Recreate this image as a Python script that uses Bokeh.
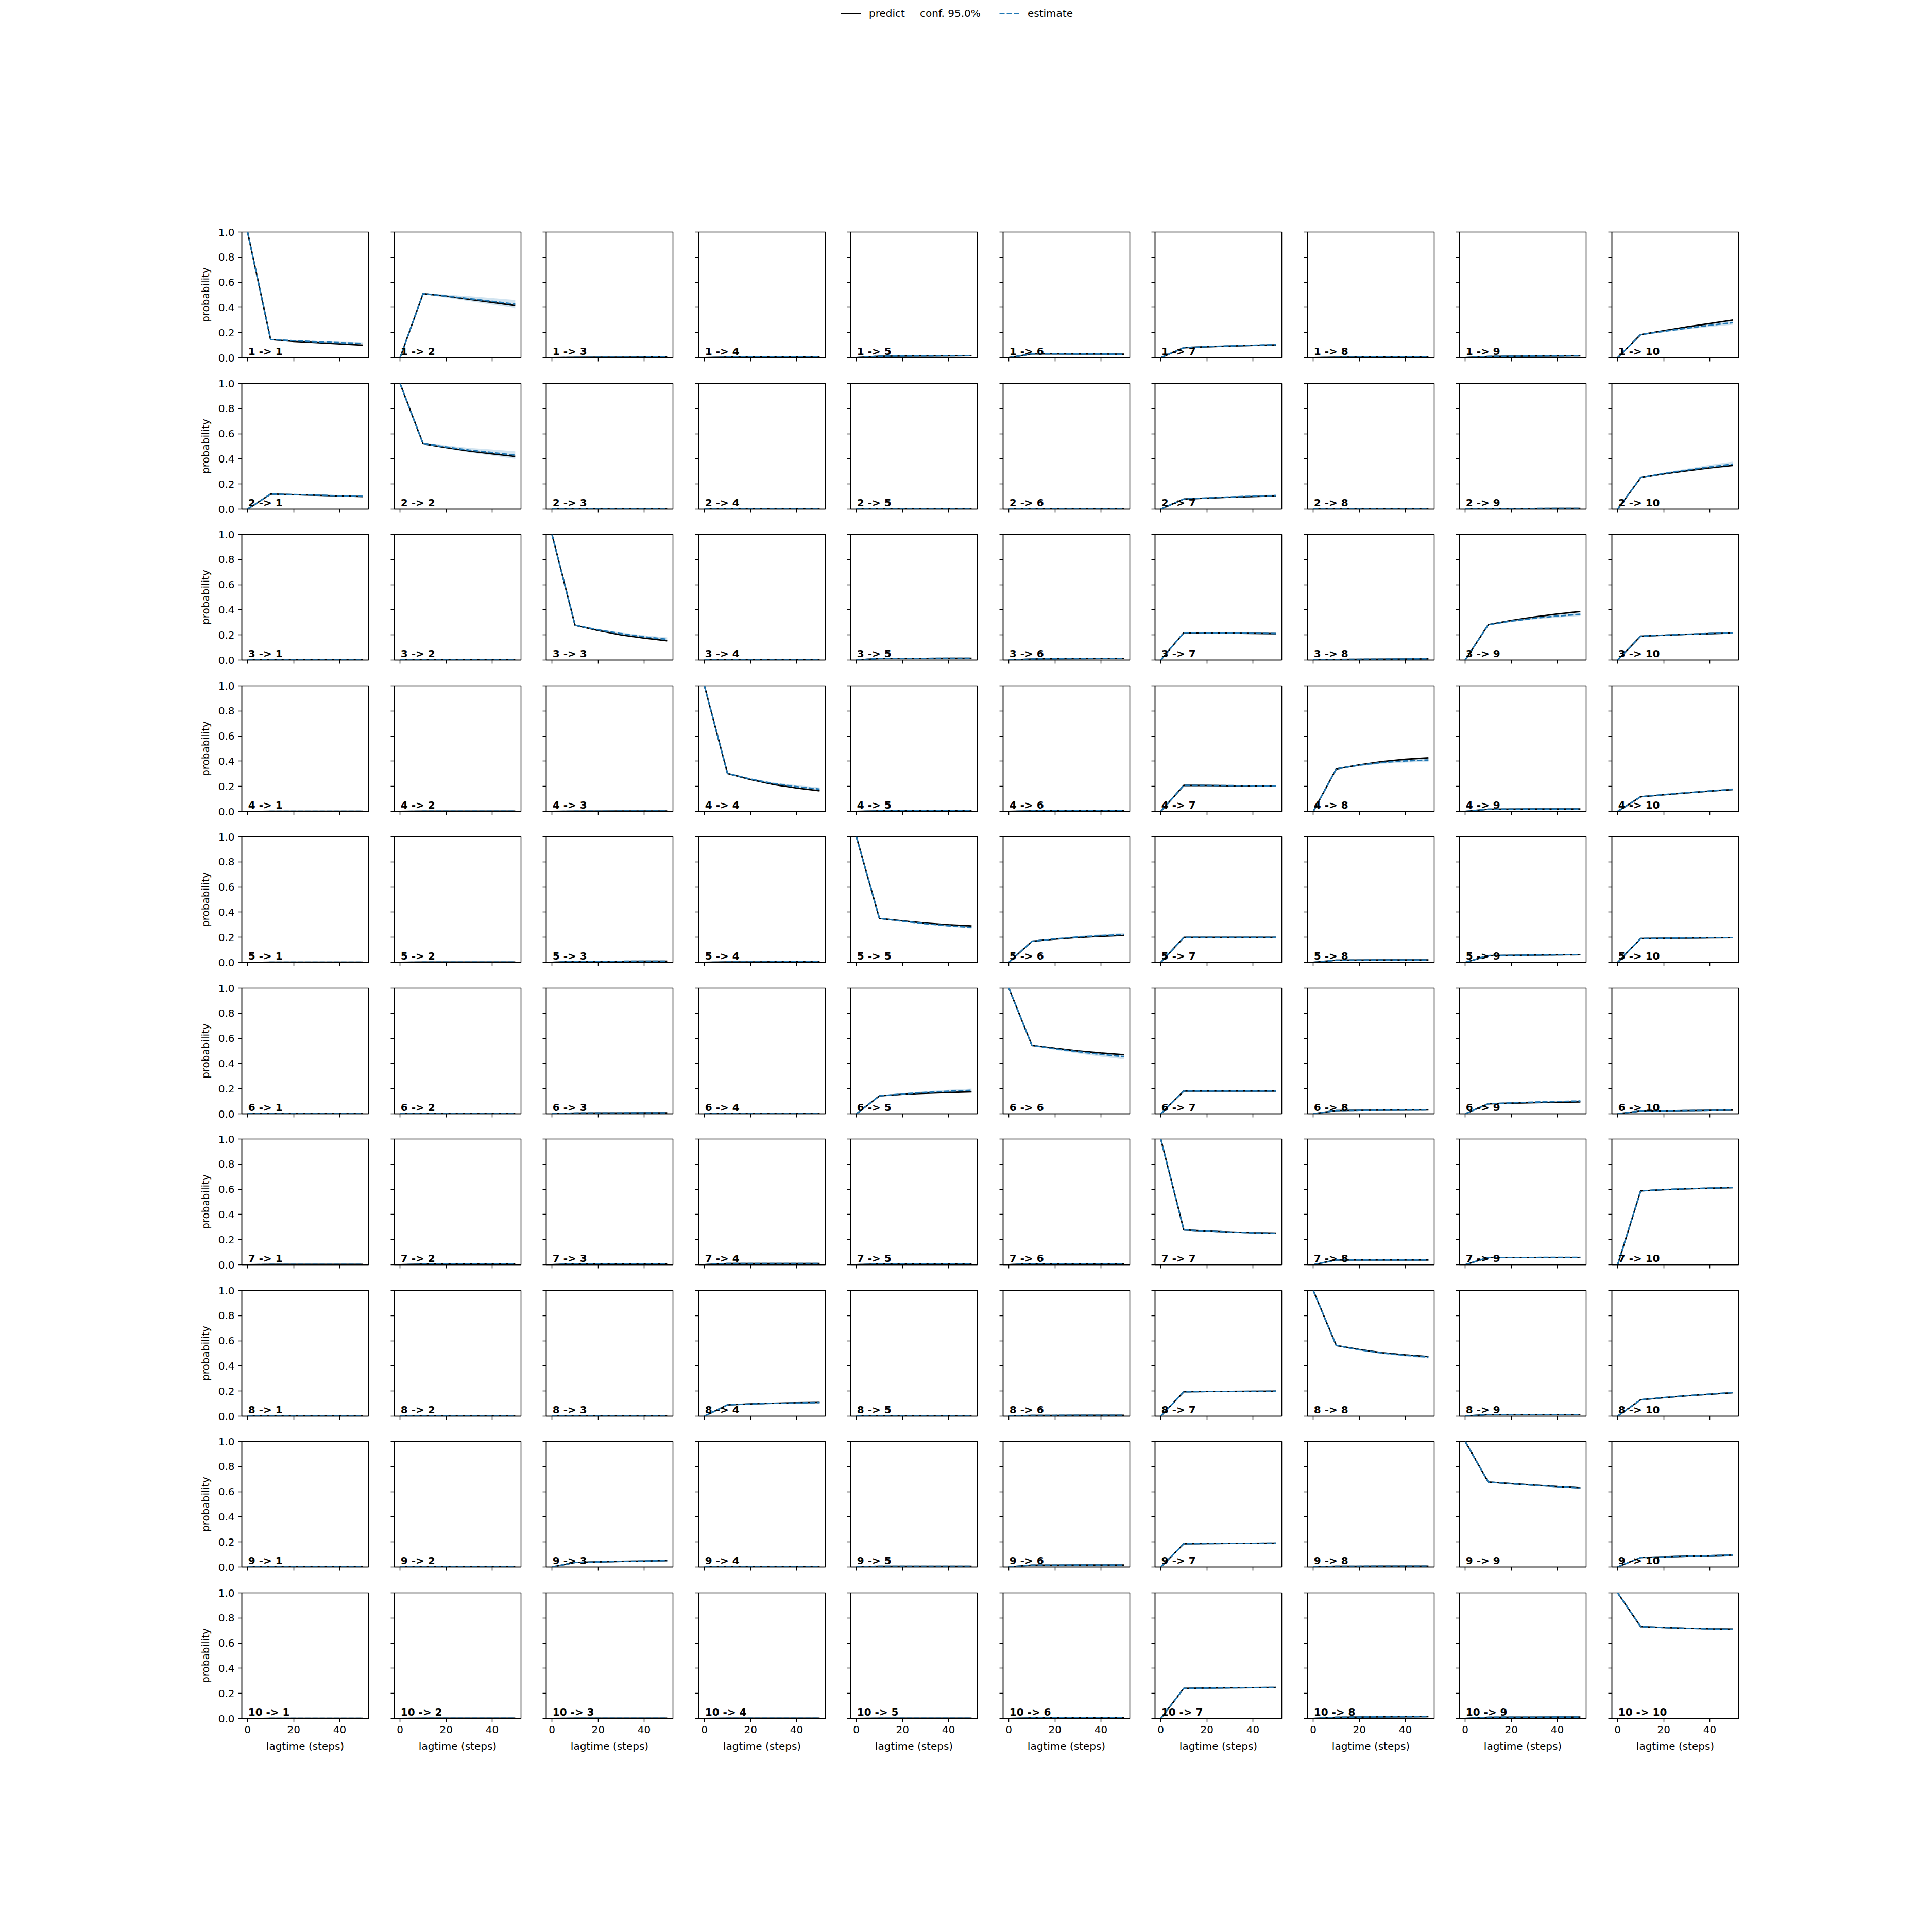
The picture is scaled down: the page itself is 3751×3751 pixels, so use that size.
from bokeh.plotting import figure
from bokeh.layouts import gridplot, column
from bokeh.models import (Range1d, FixedTicker, NumeralTickFormatter, CustomJSTickFormatter,
                          Legend, LegendItem)
from bokeh.core.properties import value
from bokeh.embed import file_html
from bokeh.resources import INLINE

# ---------------- data ----------------
states = [1, 2, 3, 4, 5, 6, 7, 8, 9, 10]
lagtimes = [0, 10, 20, 30, 40, 50]
x_ticks = [0, 20, 40]
y_ticks = [0.0, 0.2, 0.4, 0.6, 0.8, 1.0]
legend_labels = ["predict", "conf. 95.0%", "estimate"]
x_label = "lagtime (steps)"
y_label = "probability"

predict_r1 = [
    [1.0, 0.145, 0.130, 0.120, 0.110, 0.100],
    [0.0, 0.510, 0.490, 0.465, 0.440, 0.415],
    [0.0, 0.002, 0.003, 0.003, 0.004, 0.004],
    [0.0, 0.004, 0.005, 0.005, 0.006, 0.006],
    [0.0, 0.012, 0.013, 0.014, 0.015, 0.016],
    [0.0, 0.030, 0.030, 0.029, 0.029, 0.028],
    [0.0, 0.080, 0.087, 0.093, 0.098, 0.102],
    [0.0, 0.003, 0.004, 0.005, 0.005, 0.006],
    [0.0, 0.010, 0.012, 0.013, 0.014, 0.015],
    [0.0, 0.184, 0.215, 0.245, 0.272, 0.300],
]
estimate_r1 = [
    [1.0, 0.145, 0.135, 0.127, 0.120, 0.115],
    [0.0, 0.510, 0.490, 0.470, 0.448, 0.426],
    [0.0, 0.002, 0.003, 0.003, 0.004, 0.004],
    [0.0, 0.004, 0.005, 0.005, 0.006, 0.006],
    [0.0, 0.012, 0.013, 0.014, 0.015, 0.016],
    [0.0, 0.030, 0.030, 0.029, 0.029, 0.028],
    [0.0, 0.080, 0.088, 0.094, 0.099, 0.104],
    [0.0, 0.003, 0.004, 0.005, 0.005, 0.006],
    [0.0, 0.010, 0.012, 0.013, 0.014, 0.015],
    [0.0, 0.184, 0.210, 0.235, 0.258, 0.279],
]
conf_r1 = [
    [0.0, 0.002, 0.004, 0.006, 0.007, 0.008],
    [0.0, 0.005, 0.012, 0.020, 0.026, 0.033],
    [0.0, 0.000, 0.001, 0.001, 0.001, 0.001],
    [0.0, 0.001, 0.001, 0.001, 0.001, 0.001],
    [0.0, 0.001, 0.002, 0.002, 0.002, 0.003],
    [0.0, 0.002, 0.003, 0.003, 0.004, 0.004],
    [0.0, 0.003, 0.004, 0.005, 0.006, 0.007],
    [0.0, 0.001, 0.001, 0.001, 0.001, 0.001],
    [0.0, 0.001, 0.002, 0.002, 0.002, 0.003],
    [0.0, 0.004, 0.007, 0.010, 0.013, 0.017],
]

predict_r2 = [
    [0.0, 0.120, 0.115, 0.110, 0.105, 0.100],
    [1.0, 0.520, 0.490, 0.463, 0.440, 0.420],
    [0.0, 0.002, 0.002, 0.003, 0.003, 0.003],
    [0.0, 0.003, 0.003, 0.004, 0.004, 0.004],
    [0.0, 0.003, 0.004, 0.004, 0.005, 0.005],
    [0.0, 0.003, 0.003, 0.004, 0.004, 0.004],
    [0.0, 0.080, 0.088, 0.095, 0.100, 0.105],
    [0.0, 0.003, 0.003, 0.004, 0.004, 0.004],
    [0.0, 0.004, 0.005, 0.005, 0.006, 0.006],
    [0.0, 0.250, 0.280, 0.305, 0.328, 0.348],
]
estimate_r2 = [
    [0.0, 0.120, 0.116, 0.111, 0.106, 0.102],
    [1.0, 0.520, 0.495, 0.470, 0.450, 0.430],
    [0.0, 0.002, 0.002, 0.003, 0.003, 0.003],
    [0.0, 0.003, 0.003, 0.004, 0.004, 0.004],
    [0.0, 0.003, 0.004, 0.004, 0.005, 0.005],
    [0.0, 0.003, 0.003, 0.004, 0.004, 0.004],
    [0.0, 0.080, 0.089, 0.097, 0.103, 0.108],
    [0.0, 0.003, 0.003, 0.004, 0.004, 0.004],
    [0.0, 0.004, 0.005, 0.005, 0.006, 0.006],
    [0.0, 0.250, 0.283, 0.310, 0.336, 0.358],
]
conf_r2 = [
    [0.0, 0.002, 0.003, 0.004, 0.005, 0.006],
    [0.0, 0.005, 0.012, 0.018, 0.024, 0.030],
    [0.0, 0.000, 0.001, 0.001, 0.001, 0.001],
    [0.0, 0.001, 0.001, 0.001, 0.001, 0.001],
    [0.0, 0.001, 0.001, 0.001, 0.001, 0.001],
    [0.0, 0.001, 0.001, 0.001, 0.001, 0.001],
    [0.0, 0.003, 0.004, 0.005, 0.007, 0.008],
    [0.0, 0.001, 0.001, 0.001, 0.001, 0.001],
    [0.0, 0.001, 0.001, 0.001, 0.001, 0.001],
    [0.0, 0.004, 0.008, 0.012, 0.016, 0.020],
]

predict_r3 = [
    [0.0, 0.001, 0.001, 0.001, 0.001, 0.001],
    [0.0, 0.003, 0.003, 0.003, 0.003, 0.003],
    [1.0, 0.277, 0.235, 0.200, 0.175, 0.153],
    [0.0, 0.004, 0.004, 0.005, 0.005, 0.005],
    [0.0, 0.012, 0.013, 0.013, 0.014, 0.014],
    [0.0, 0.008, 0.010, 0.011, 0.012, 0.013],
    [0.0, 0.218, 0.216, 0.214, 0.212, 0.210],
    [0.0, 0.004, 0.006, 0.007, 0.008, 0.009],
    [0.0, 0.281, 0.315, 0.343, 0.366, 0.386],
    [0.0, 0.190, 0.197, 0.204, 0.210, 0.215],
]
estimate_r3 = [
    [0.0, 0.001, 0.001, 0.001, 0.001, 0.001],
    [0.0, 0.003, 0.003, 0.003, 0.003, 0.003],
    [1.0, 0.277, 0.240, 0.210, 0.185, 0.165],
    [0.0, 0.004, 0.004, 0.005, 0.005, 0.005],
    [0.0, 0.012, 0.013, 0.013, 0.014, 0.014],
    [0.0, 0.008, 0.010, 0.011, 0.012, 0.013],
    [0.0, 0.218, 0.217, 0.215, 0.213, 0.211],
    [0.0, 0.004, 0.006, 0.007, 0.008, 0.009],
    [0.0, 0.281, 0.310, 0.333, 0.350, 0.364],
    [0.0, 0.190, 0.198, 0.205, 0.211, 0.217],
]
conf_r3 = [
    [0.0, 0.000, 0.001, 0.001, 0.001, 0.001],
    [0.0, 0.001, 0.001, 0.001, 0.001, 0.001],
    [0.0, 0.003, 0.006, 0.009, 0.012, 0.015],
    [0.0, 0.001, 0.001, 0.001, 0.001, 0.001],
    [0.0, 0.001, 0.002, 0.002, 0.002, 0.002],
    [0.0, 0.001, 0.002, 0.002, 0.002, 0.002],
    [0.0, 0.003, 0.004, 0.004, 0.005, 0.005],
    [0.0, 0.001, 0.001, 0.001, 0.002, 0.002],
    [0.0, 0.003, 0.006, 0.009, 0.012, 0.014],
    [0.0, 0.003, 0.004, 0.005, 0.006, 0.006],
]

predict_r4 = [
    [0.0, 0.001, 0.001, 0.001, 0.001, 0.001],
    [0.0, 0.002, 0.002, 0.002, 0.002, 0.002],
    [0.0, 0.002, 0.002, 0.003, 0.003, 0.003],
    [1.0, 0.303, 0.255, 0.215, 0.187, 0.164],
    [0.0, 0.004, 0.004, 0.004, 0.004, 0.004],
    [0.0, 0.004, 0.004, 0.004, 0.004, 0.004],
    [0.0, 0.208, 0.207, 0.205, 0.204, 0.203],
    [0.0, 0.339, 0.370, 0.397, 0.415, 0.427],
    [0.0, 0.018, 0.019, 0.020, 0.020, 0.020],
    [0.0, 0.117, 0.133, 0.148, 0.162, 0.175],
]
estimate_r4 = [
    [0.0, 0.001, 0.001, 0.001, 0.001, 0.001],
    [0.0, 0.002, 0.002, 0.002, 0.002, 0.002],
    [0.0, 0.002, 0.002, 0.003, 0.003, 0.003],
    [1.0, 0.303, 0.258, 0.222, 0.198, 0.178],
    [0.0, 0.004, 0.004, 0.004, 0.004, 0.004],
    [0.0, 0.004, 0.004, 0.004, 0.004, 0.004],
    [0.0, 0.208, 0.207, 0.206, 0.205, 0.204],
    [0.0, 0.339, 0.368, 0.390, 0.402, 0.409],
    [0.0, 0.018, 0.019, 0.020, 0.020, 0.020],
    [0.0, 0.117, 0.134, 0.149, 0.163, 0.176],
]
conf_r4 = [
    [0.0, 0.000, 0.001, 0.001, 0.001, 0.001],
    [0.0, 0.001, 0.001, 0.001, 0.001, 0.001],
    [0.0, 0.001, 0.001, 0.001, 0.001, 0.001],
    [0.0, 0.003, 0.006, 0.009, 0.012, 0.014],
    [0.0, 0.001, 0.001, 0.001, 0.001, 0.001],
    [0.0, 0.001, 0.001, 0.001, 0.001, 0.001],
    [0.0, 0.003, 0.004, 0.004, 0.005, 0.005],
    [0.0, 0.004, 0.007, 0.010, 0.013, 0.016],
    [0.0, 0.001, 0.002, 0.002, 0.002, 0.002],
    [0.0, 0.003, 0.004, 0.006, 0.007, 0.008],
]

predict_r5 = [
    [0.0, 0.001, 0.001, 0.001, 0.001, 0.001],
    [0.0, 0.002, 0.002, 0.002, 0.002, 0.002],
    [0.0, 0.008, 0.009, 0.009, 0.010, 0.010],
    [0.0, 0.003, 0.003, 0.004, 0.004, 0.004],
    [1.0, 0.350, 0.330, 0.313, 0.300, 0.290],
    [0.0, 0.168, 0.185, 0.198, 0.208, 0.215],
    [0.0, 0.199, 0.199, 0.199, 0.199, 0.199],
    [0.0, 0.018, 0.019, 0.020, 0.020, 0.020],
    [0.0, 0.054, 0.056, 0.058, 0.060, 0.061],
    [0.0, 0.190, 0.192, 0.193, 0.195, 0.196],
]
estimate_r5 = [
    [0.0, 0.001, 0.001, 0.001, 0.001, 0.001],
    [0.0, 0.002, 0.002, 0.002, 0.002, 0.002],
    [0.0, 0.008, 0.009, 0.009, 0.010, 0.010],
    [0.0, 0.003, 0.003, 0.004, 0.004, 0.004],
    [1.0, 0.350, 0.328, 0.308, 0.292, 0.279],
    [0.0, 0.168, 0.187, 0.202, 0.213, 0.222],
    [0.0, 0.199, 0.199, 0.199, 0.199, 0.199],
    [0.0, 0.018, 0.019, 0.020, 0.020, 0.020],
    [0.0, 0.054, 0.056, 0.058, 0.060, 0.062],
    [0.0, 0.190, 0.192, 0.194, 0.196, 0.197],
]
conf_r5 = [
    [0.0, 0.000, 0.001, 0.001, 0.001, 0.001],
    [0.0, 0.001, 0.001, 0.001, 0.001, 0.001],
    [0.0, 0.001, 0.001, 0.002, 0.002, 0.002],
    [0.0, 0.001, 0.001, 0.001, 0.001, 0.001],
    [0.0, 0.002, 0.004, 0.006, 0.008, 0.010],
    [0.0, 0.003, 0.005, 0.008, 0.010, 0.012],
    [0.0, 0.003, 0.003, 0.004, 0.004, 0.004],
    [0.0, 0.001, 0.002, 0.002, 0.002, 0.002],
    [0.0, 0.002, 0.002, 0.003, 0.003, 0.003],
    [0.0, 0.003, 0.003, 0.004, 0.004, 0.005],
]

predict_r6 = [
    [0.0, 0.003, 0.003, 0.003, 0.003, 0.003],
    [0.0, 0.002, 0.002, 0.002, 0.002, 0.002],
    [0.0, 0.006, 0.007, 0.007, 0.008, 0.008],
    [0.0, 0.002, 0.002, 0.003, 0.003, 0.003],
    [0.0, 0.143, 0.155, 0.164, 0.170, 0.175],
    [1.0, 0.545, 0.522, 0.500, 0.484, 0.470],
    [0.0, 0.181, 0.181, 0.181, 0.181, 0.181],
    [0.0, 0.026, 0.028, 0.029, 0.030, 0.031],
    [0.0, 0.080, 0.085, 0.089, 0.092, 0.095],
    [0.0, 0.022, 0.024, 0.026, 0.028, 0.029],
]
estimate_r6 = [
    [0.0, 0.003, 0.003, 0.003, 0.003, 0.003],
    [0.0, 0.002, 0.002, 0.002, 0.002, 0.002],
    [0.0, 0.006, 0.007, 0.007, 0.008, 0.008],
    [0.0, 0.002, 0.002, 0.003, 0.003, 0.003],
    [0.0, 0.143, 0.158, 0.170, 0.180, 0.187],
    [1.0, 0.545, 0.518, 0.494, 0.473, 0.455],
    [0.0, 0.181, 0.181, 0.181, 0.181, 0.181],
    [0.0, 0.026, 0.028, 0.029, 0.030, 0.031],
    [0.0, 0.080, 0.087, 0.093, 0.098, 0.102],
    [0.0, 0.022, 0.024, 0.026, 0.028, 0.030],
]
conf_r6 = [
    [0.0, 0.001, 0.001, 0.001, 0.001, 0.001],
    [0.0, 0.001, 0.001, 0.001, 0.001, 0.001],
    [0.0, 0.001, 0.001, 0.001, 0.001, 0.001],
    [0.0, 0.001, 0.001, 0.001, 0.001, 0.001],
    [0.0, 0.003, 0.006, 0.009, 0.012, 0.014],
    [0.0, 0.004, 0.009, 0.013, 0.018, 0.022],
    [0.0, 0.002, 0.003, 0.003, 0.003, 0.003],
    [0.0, 0.001, 0.002, 0.002, 0.002, 0.002],
    [0.0, 0.002, 0.003, 0.004, 0.004, 0.005],
    [0.0, 0.001, 0.002, 0.002, 0.002, 0.002],
]

predict_r7 = [
    [0.0, 0.002, 0.002, 0.002, 0.002, 0.002],
    [0.0, 0.004, 0.004, 0.004, 0.004, 0.004],
    [0.0, 0.008, 0.008, 0.009, 0.009, 0.009],
    [0.0, 0.010, 0.010, 0.010, 0.010, 0.010],
    [0.0, 0.006, 0.006, 0.007, 0.007, 0.007],
    [0.0, 0.008, 0.008, 0.009, 0.009, 0.009],
    [1.0, 0.277, 0.268, 0.261, 0.255, 0.251],
    [0.0, 0.038, 0.038, 0.038, 0.038, 0.038],
    [0.0, 0.058, 0.058, 0.058, 0.058, 0.058],
    [0.0, 0.588, 0.597, 0.604, 0.609, 0.613],
]
estimate_r7 = [
    [0.0, 0.002, 0.002, 0.002, 0.002, 0.002],
    [0.0, 0.004, 0.004, 0.004, 0.004, 0.004],
    [0.0, 0.008, 0.008, 0.009, 0.009, 0.009],
    [0.0, 0.010, 0.010, 0.010, 0.010, 0.010],
    [0.0, 0.006, 0.006, 0.007, 0.007, 0.007],
    [0.0, 0.008, 0.008, 0.009, 0.009, 0.009],
    [1.0, 0.277, 0.268, 0.260, 0.254, 0.250],
    [0.0, 0.038, 0.038, 0.038, 0.038, 0.038],
    [0.0, 0.058, 0.058, 0.058, 0.059, 0.059],
    [0.0, 0.588, 0.598, 0.605, 0.610, 0.614],
]
conf_r7 = [
    [0.0, 0.000, 0.001, 0.001, 0.001, 0.001],
    [0.0, 0.001, 0.001, 0.001, 0.001, 0.001],
    [0.0, 0.001, 0.001, 0.001, 0.001, 0.001],
    [0.0, 0.001, 0.001, 0.001, 0.001, 0.001],
    [0.0, 0.001, 0.001, 0.001, 0.001, 0.001],
    [0.0, 0.001, 0.001, 0.001, 0.001, 0.001],
    [0.0, 0.002, 0.003, 0.004, 0.004, 0.005],
    [0.0, 0.001, 0.001, 0.002, 0.002, 0.002],
    [0.0, 0.002, 0.002, 0.002, 0.003, 0.003],
    [0.0, 0.003, 0.004, 0.004, 0.005, 0.005],
]

predict_r8 = [
    [0.0, 0.001, 0.001, 0.001, 0.001, 0.001],
    [0.0, 0.001, 0.001, 0.001, 0.001, 0.001],
    [0.0, 0.002, 0.002, 0.002, 0.002, 0.002],
    [0.0, 0.090, 0.098, 0.103, 0.107, 0.109],
    [0.0, 0.003, 0.003, 0.003, 0.003, 0.003],
    [0.0, 0.006, 0.006, 0.007, 0.007, 0.007],
    [0.0, 0.194, 0.196, 0.197, 0.198, 0.199],
    [1.0, 0.562, 0.530, 0.505, 0.487, 0.474],
    [0.0, 0.013, 0.013, 0.013, 0.013, 0.013],
    [0.0, 0.131, 0.147, 0.162, 0.175, 0.187],
]
estimate_r8 = [
    [0.0, 0.001, 0.001, 0.001, 0.001, 0.001],
    [0.0, 0.001, 0.001, 0.001, 0.001, 0.001],
    [0.0, 0.002, 0.002, 0.002, 0.002, 0.002],
    [0.0, 0.090, 0.097, 0.102, 0.106, 0.108],
    [0.0, 0.003, 0.003, 0.003, 0.003, 0.003],
    [0.0, 0.006, 0.006, 0.007, 0.007, 0.007],
    [0.0, 0.194, 0.196, 0.197, 0.198, 0.199],
    [1.0, 0.562, 0.528, 0.502, 0.484, 0.470],
    [0.0, 0.013, 0.013, 0.013, 0.013, 0.013],
    [0.0, 0.131, 0.148, 0.163, 0.176, 0.188],
]
conf_r8 = [
    [0.0, 0.000, 0.001, 0.001, 0.001, 0.001],
    [0.0, 0.000, 0.001, 0.001, 0.001, 0.001],
    [0.0, 0.001, 0.001, 0.001, 0.001, 0.001],
    [0.0, 0.002, 0.003, 0.003, 0.004, 0.004],
    [0.0, 0.001, 0.001, 0.001, 0.001, 0.001],
    [0.0, 0.001, 0.001, 0.001, 0.001, 0.001],
    [0.0, 0.002, 0.003, 0.003, 0.004, 0.004],
    [0.0, 0.003, 0.005, 0.007, 0.009, 0.011],
    [0.0, 0.001, 0.001, 0.001, 0.001, 0.001],
    [0.0, 0.003, 0.004, 0.005, 0.006, 0.007],
]

predict_r9 = [
    [0.0, 0.002, 0.002, 0.002, 0.002, 0.002],
    [0.0, 0.002, 0.002, 0.002, 0.002, 0.002],
    [0.0, 0.036, 0.041, 0.045, 0.048, 0.051],
    [0.0, 0.002, 0.002, 0.002, 0.002, 0.002],
    [0.0, 0.006, 0.006, 0.006, 0.006, 0.006],
    [0.0, 0.015, 0.015, 0.016, 0.016, 0.016],
    [0.0, 0.185, 0.187, 0.188, 0.189, 0.190],
    [0.0, 0.006, 0.006, 0.007, 0.007, 0.007],
    [1.0, 0.677, 0.664, 0.652, 0.641, 0.631],
    [0.0, 0.076, 0.081, 0.086, 0.091, 0.095],
]
estimate_r9 = [
    [0.0, 0.002, 0.002, 0.002, 0.002, 0.002],
    [0.0, 0.002, 0.002, 0.002, 0.002, 0.002],
    [0.0, 0.036, 0.041, 0.045, 0.048, 0.051],
    [0.0, 0.002, 0.002, 0.002, 0.002, 0.002],
    [0.0, 0.006, 0.006, 0.006, 0.006, 0.006],
    [0.0, 0.015, 0.015, 0.016, 0.016, 0.016],
    [0.0, 0.185, 0.187, 0.188, 0.189, 0.190],
    [0.0, 0.006, 0.006, 0.007, 0.007, 0.007],
    [1.0, 0.677, 0.663, 0.651, 0.640, 0.630],
    [0.0, 0.076, 0.081, 0.086, 0.091, 0.095],
]
conf_r9 = [
    [0.0, 0.000, 0.001, 0.001, 0.001, 0.001],
    [0.0, 0.000, 0.001, 0.001, 0.001, 0.001],
    [0.0, 0.002, 0.002, 0.003, 0.003, 0.003],
    [0.0, 0.000, 0.001, 0.001, 0.001, 0.001],
    [0.0, 0.001, 0.001, 0.001, 0.001, 0.001],
    [0.0, 0.001, 0.001, 0.002, 0.002, 0.002],
    [0.0, 0.002, 0.003, 0.003, 0.004, 0.004],
    [0.0, 0.001, 0.001, 0.001, 0.001, 0.001],
    [0.0, 0.002, 0.003, 0.004, 0.005, 0.005],
    [0.0, 0.002, 0.003, 0.003, 0.004, 0.004],
]

predict_r10 = [
    [0.0, 0.001, 0.001, 0.001, 0.001, 0.001],
    [0.0, 0.002, 0.002, 0.002, 0.002, 0.002],
    [0.0, 0.002, 0.002, 0.002, 0.002, 0.002],
    [0.0, 0.002, 0.002, 0.002, 0.002, 0.002],
    [0.0, 0.002, 0.002, 0.002, 0.002, 0.002],
    [0.0, 0.004, 0.004, 0.004, 0.004, 0.004],
    [0.0, 0.240, 0.242, 0.244, 0.246, 0.247],
    [0.0, 0.010, 0.012, 0.013, 0.014, 0.015],
    [0.0, 0.010, 0.011, 0.011, 0.012, 0.012],
    [1.0, 0.731, 0.724, 0.718, 0.714, 0.711],
]
estimate_r10 = [
    [0.0, 0.001, 0.001, 0.001, 0.001, 0.001],
    [0.0, 0.002, 0.002, 0.002, 0.002, 0.002],
    [0.0, 0.002, 0.002, 0.002, 0.002, 0.002],
    [0.0, 0.002, 0.002, 0.002, 0.002, 0.002],
    [0.0, 0.002, 0.002, 0.002, 0.002, 0.002],
    [0.0, 0.004, 0.004, 0.004, 0.004, 0.004],
    [0.0, 0.240, 0.242, 0.244, 0.246, 0.248],
    [0.0, 0.010, 0.012, 0.013, 0.014, 0.015],
    [0.0, 0.010, 0.011, 0.011, 0.012, 0.012],
    [1.0, 0.731, 0.724, 0.718, 0.713, 0.710],
]
conf_r10 = [
    [0.0, 0.000, 0.001, 0.001, 0.001, 0.001],
    [0.0, 0.000, 0.001, 0.001, 0.001, 0.001],
    [0.0, 0.000, 0.001, 0.001, 0.001, 0.001],
    [0.0, 0.000, 0.001, 0.001, 0.001, 0.001],
    [0.0, 0.000, 0.001, 0.001, 0.001, 0.001],
    [0.0, 0.001, 0.001, 0.001, 0.001, 0.001],
    [0.0, 0.002, 0.003, 0.003, 0.004, 0.004],
    [0.0, 0.001, 0.001, 0.001, 0.002, 0.002],
    [0.0, 0.001, 0.001, 0.001, 0.002, 0.002],
    [0.0, 0.002, 0.003, 0.004, 0.004, 0.005],
]

predict = [predict_r1, predict_r2, predict_r3, predict_r4, predict_r5,
           predict_r6, predict_r7, predict_r8, predict_r9, predict_r10]
estimate = [estimate_r1, estimate_r2, estimate_r3, estimate_r4, estimate_r5,
            estimate_r6, estimate_r7, estimate_r8, estimate_r9, estimate_r10]
conf = [conf_r1, conf_r2, conf_r3, conf_r4, conf_r5,
        conf_r6, conf_r7, conf_r8, conf_r9, conf_r10]

# ---------------- style ----------------
FONT = "DejaVu Sans"
FS = "20px"
BLUE = "#1f77b4"
LW = 2.8
X0, X1 = -2.5, 52.5
FRAME_W, FRAME_H = 246, 244
LEGEND_H = 52

n = len(states)
rows = []
for i in range(n):
    row = []
    for j in range(n):
        left = 469 if j == 0 else 45
        right = 5 if j % 2 == 0 else 4
        top = (450 - LEGEND_H) if i == 0 else 25
        bottom = 90 if i == n - 1 else (25 if i % 2 == 0 else 24)
        p = figure(frame_width=FRAME_W, frame_height=FRAME_H,
                   x_range=Range1d(X0, X1), y_range=Range1d(0, 1),
                   toolbar_location=None, output_backend="svg",
                   min_border_left=left, min_border_right=right,
                   min_border_top=top, min_border_bottom=bottom,
                   background_fill_color="white", border_fill_color="white")
        p.grid.visible = False
        p.outline_line_color = "black"
        p.outline_line_width = 1.5
        p.outline_line_alpha = 1.0
        for ax in (p.xaxis[0], p.yaxis[0]):
            ax.axis_line_color = "black"
            ax.axis_line_width = 1.5
            ax.major_tick_line_color = "black"
            ax.major_tick_line_width = 1.5
            ax.major_tick_in = 0
            ax.major_tick_out = 7
            ax.minor_tick_line_color = None
            ax.major_label_standoff = 7
            ax.major_label_text_font = FONT
            ax.major_label_text_font_size = FS
            ax.major_label_text_color = "black"
            ax.axis_label_text_font = FONT
            ax.axis_label_text_font_size = FS
            ax.axis_label_text_font_style = "normal"
            ax.axis_label_text_color = "black"
            ax.axis_label_standoff = 10
        p.xaxis.ticker = FixedTicker(ticks=x_ticks)
        p.yaxis.ticker = FixedTicker(ticks=y_ticks)
        if j == 0:
            p.yaxis.formatter = NumeralTickFormatter(format="0.0")
            p.yaxis.axis_label = y_label
        else:
            p.yaxis.formatter = CustomJSTickFormatter(code="return ''")
            p.yaxis.major_label_text_font_size = "0px"
        if i == n - 1:
            p.xaxis.axis_label = x_label
        else:
            p.xaxis.formatter = CustomJSTickFormatter(code="return ''")
            p.xaxis.major_label_text_font_size = "0px"

        est = estimate[i][j]
        cw = conf[i][j]
        lo = [e - c for e, c in zip(est, cw)]
        hi = [e + c for e, c in zip(est, cw)]
        p.varea(x=lagtimes, y1=lo, y2=hi, fill_color=BLUE, fill_alpha=0.2)
        p.line(lagtimes, predict[i][j], line_color="black", line_width=LW)
        p.line(lagtimes, est, line_color=BLUE, line_width=LW, line_dash="10 4")
        p.text(x=[X0 + 0.05 * (X1 - X0)], y=[0.05],
               text=[f"{states[i]} -> {states[j]}"],
               text_font=value(FONT), text_font_size=FS, text_font_style="bold",
               text_color="black", text_baseline="alphabetic", text_align="left")
        row.append(p)
    rows.append(row)

grid = gridplot(rows, toolbar_location=None)

# legend strip (legend renderers carry data outside the visible range)
lf = figure(width=3735, height=LEGEND_H, x_range=Range1d(0, 1), y_range=Range1d(0, 1),
            toolbar_location=None, output_backend="svg", min_border=0,
            background_fill_color="white", border_fill_color="white")
lf.axis.visible = False
lf.grid.visible = False
lf.outline_line_color = None
r1 = lf.line(x=[5, 6], y=[5, 5], line_color="black", line_width=LW)
r2 = lf.varea(x=[5, 6], y1=[5, 5], y2=[6, 6], fill_color=BLUE, fill_alpha=0.0)
r3 = lf.line(x=[5, 6], y=[5, 5], line_color=BLUE, line_width=LW, line_dash="10 4")

def make_legend(label, renderer, loc, gw):
    return Legend(items=[LegendItem(label=label, renderers=[renderer])],
                  location=loc, orientation="horizontal",
                  glyph_width=gw, glyph_height=20, label_standoff=(15 if gw else 0),
                  padding=0, margin=0, border_line_alpha=0, background_fill_alpha=0,
                  label_text_font=FONT, label_text_font_size=FS, label_text_color="black")

lf.add_layout(make_legend(legend_labels[0], r1, (1632, 14), 40))
lf.add_layout(make_legend(legend_labels[1], r2, (1786, 14), 0))
lf.add_layout(make_legend(legend_labels[2], r3, (1940, 14), 40))

layout = column(lf, grid)
open("out.html", "w").write(file_html(layout, INLINE))
